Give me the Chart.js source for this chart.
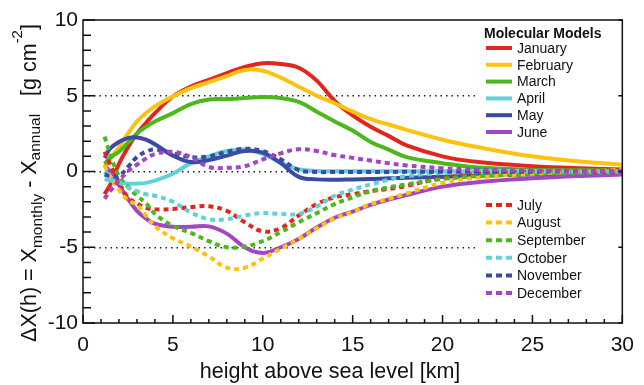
<!DOCTYPE html>
<html>
<head>
<meta charset="utf-8">
<script src="https://cdn.jsdelivr.net/npm/chart.js@4/dist/chart.umd.min.js"></script>
<style>
  html, body { margin: 0; padding: 0; background: #fff; }
  canvas { display: block; }
</style>
</head>
<body>
<canvas id="chart" width="644" height="385"></canvas>
<script>
// heights [km] shared by every monthly profile
const heights = [1.2, 1.5, 2, 2.5, 3, 3.5, 4, 5, 6, 7, 8, 9, 10, 11, 12, 13, 14, 15, 16, 17, 18, 20, 22, 25, 28, 30];

// deviation of monthly from annual mean profile [g cm^-2]
const january   = [-1.5, -0.9, 0.5, 1.6, 2.5, 3.2, 3.85, 4.95, 5.6, 6.05, 6.5, 6.9, 7.15, 7.1, 6.85, 6.0, 4.65, 3.7, 2.95, 2.35, 1.72, 1.0, 0.62, 0.35, 0.2, 0.13];
const february  = [0.3, 0.8, 1.6, 2.5, 3.3, 3.85, 4.3, 4.95, 5.5, 5.9, 6.3, 6.7, 6.65, 6.2, 5.6, 5.0, 4.5, 3.95, 3.45, 3.1, 2.75, 2.1, 1.6, 1.0, 0.62, 0.45];
const march     = [0.5, 0.9, 1.3, 1.9, 2.5, 2.95, 3.3, 3.85, 4.45, 4.75, 4.78, 4.85, 4.92, 4.85, 4.6, 3.95, 3.3, 2.7, 1.95, 1.45, 0.95, 0.55, 0.26, 0.12, 0.08, 0.05];
const april     = [-0.5, -0.6, -0.7, -0.8, -0.8, -0.75, -0.6, -0.15, 0.55, 1.0, 1.35, 1.45, 1.15, 0.6, 0.15, 0.03, 0.02, 0.02, 0.02, 0.02, 0.02, 0.02, 0.01, 0.01, 0, 0];
const may       = [0.9, 1.5, 1.95, 2.2, 2.25, 2.1, 1.8, 1.05, 0.62, 0.75, 1.05, 1.35, 1.25, 0.55, -0.35, -0.52, -0.55, -0.52, -0.5, -0.45, -0.42, -0.35, -0.28, -0.2, -0.12, -0.1];
const june      = [0.4, 0, -0.9, -1.8, -2.6, -3.1, -3.45, -3.65, -3.65, -3.62, -4.1, -5.0, -5.38, -5.0, -4.45, -3.7, -3.05, -2.65, -2.2, -1.85, -1.55, -1.0, -0.7, -0.45, -0.28, -0.2];
const july      = [1.3, 0.5, -0.7, -1.7, -2.1, -2.4, -2.5, -2.47, -2.35, -2.3, -2.6, -3.35, -3.95, -3.73, -2.9, -2.15, -1.7, -1.5, -1.3, -1.15, -0.95, -0.42, -0.15, -0.05, 0, 0];
const august    = [0.4, -0.3, -1.2, -1.9, -2.2, -2.9, -3.6, -4.4, -4.95, -5.6, -6.35, -6.35, -5.75, -5.1, -4.45, -3.75, -3.1, -2.65, -2.15, -1.8, -1.45, -0.75, -0.4, -0.15, 0, 0.1];
const september = [2.3, 1.2, -0.3, -1.0, -1.6, -2.1, -2.8, -3.6, -4.05, -4.6, -5.0, -4.95, -4.6, -4.0, -3.35, -2.75, -2.15, -1.7, -1.3, -1.05, -0.85, -0.5, -0.3, -0.15, -0.08, -0.05];
const october   = [0, -0.3, -0.7, -1.05, -1.3, -1.5, -1.6, -2.0, -2.7, -3.15, -3.15, -2.9, -2.75, -2.8, -2.8, -2.3, -1.6, -1.2, -0.85, -0.55, -0.3, -0.1, -0.03, 0, 0, 0];
const november  = [-0.2, -0.3, -0.3, 0.3, 0.95, 1.3, 1.45, 1.2, 0.95, 1.0, 1.3, 1.5, 1.35, 0.8, 0.1, -0.03, -0.03, -0.03, -0.03, -0.03, -0.02, -0.02, -0.02, -0.01, 0, 0];
const december  = [-1.8, -1.3, -0.6, 0.02, 0.45, 0.85, 1.15, 1.3, 0.95, 0.3, 0.24, 0.35, 0.8, 1.2, 1.47, 1.35, 1.08, 0.9, 0.72, 0.55, 0.4, 0.22, 0.12, 0.06, 0.03, 0.02];

const months = ['January', 'February', 'March', 'April', 'May', 'June',
                'July', 'August', 'September', 'October', 'November', 'December'];
const series = [january, february, march, april, may, june,
                july, august, september, october, november, december];

const xTicks = [0, 5, 10, 15, 20, 25, 30];
const yTicks = [-10, -5, 0, 5, 10];
const dottedLevels = [-5, 0, 5];

const palette = ['#e2261f', '#ffc20e', '#4cb81d', '#62d1d6', '#3b4aa5', '#a346c6'];
const FONT = '"Liberation Sans", Arial, sans-serif';

// Jan-Jun solid, Jul-Dec dashed, same six colours
const datasets = series.map((vals, i) => ({
  label: months[i],
  data: heights.map((h, k) => ({ x: h, y: vals[k] })),
  borderColor: palette[i % 6],
  borderWidth: 4,
  borderDash: i < 6 ? [] : [5, 4],
  borderCapStyle: 'butt',
  pointRadius: 0,
  fill: false,
  tension: 0.4,
  order: 12 - i
}));

// white legend panels with line samples
const legendPanels = {
  id: 'legendPanels',
  beforeDatasetsDraw(chart) {
    const ctx = chart.ctx;
    ctx.save();
    ctx.fillStyle = '#fff';
    ctx.fillRect(478, 24, 151, 116);
    ctx.fillRect(478, 196, 151, 106);

    ctx.fillStyle = '#111';
    ctx.textBaseline = 'middle';
    ctx.font = 'bold 14px ' + FONT;
    ctx.fillText('Molecular Models', 484, 34);

    ctx.font = '14px ' + FONT;
    months.forEach((m, i) => {
      const y = i < 6 ? 48 + i * 16.8 : 205 + (i - 6) * 17.6;
      ctx.beginPath();
      ctx.strokeStyle = palette[i % 6];
      ctx.lineWidth = 4;
      ctx.lineCap = 'butt';
      ctx.setLineDash(i < 6 ? [] : [6, 4]);
      ctx.moveTo(486, y);
      ctx.lineTo(512, y);
      ctx.stroke();
      ctx.setLineDash([]);
      ctx.fillText(m, 517, y + 1);
    });
    ctx.restore();
  }
};

// axis frame with inward ticks
const frame = {
  id: 'frame',
  afterDatasetsDraw(chart) {
    const { ctx, chartArea: a, scales: { x, y } } = chart;
    ctx.save();
    ctx.strokeStyle = '#111';
    ctx.lineWidth = 1.5;
    ctx.strokeRect(a.left, a.top, a.right - a.left, a.bottom - a.top);
    ctx.beginPath();
    for (let v = 0; v <= 30; v++) {
      const px = x.getPixelForValue(v);
      const len = v % 5 === 0 ? 8 : 4;
      ctx.moveTo(px, a.bottom);
      ctx.lineTo(px, a.bottom - len);
    }
    for (let v = -10; v <= 10; v++) {
      const py = y.getPixelForValue(v);
      const len = v % 5 === 0 ? 12 : 8;
      ctx.moveTo(a.left, py);
      ctx.lineTo(a.left + len, py);
      if (v % 5 === 0) {
        ctx.moveTo(a.right, py);
        ctx.lineTo(a.right - 4, py);
      }
    }
    ctx.stroke();
    ctx.restore();
  }
};

// axis titles, the y title with sub- and superscripts
const titles = {
  id: 'titles',
  afterDraw(chart) {
    const ctx = chart.ctx;
    ctx.save();
    ctx.fillStyle = '#111';
    ctx.textBaseline = 'alphabetic';
    ctx.font = '21.5px ' + FONT;
    ctx.textAlign = 'center';
    ctx.fillText('height above sea level [km]', 330, 378);

    const parts = [
      ['\u0394X(h) = X', 21.5, 0],
      ['monthly', 15.5, 6],
      [' - X', 21.5, 0],
      ['annual', 15.5, 4],
      ['   [g cm', 21.5, 0],
      ['-2', 15, -14],
      [']', 21.5, 0]
    ];
    ctx.textAlign = 'left';
    let total = 0;
    parts.forEach(p => { ctx.font = p[1] + 'px ' + FONT; total += ctx.measureText(p[0]).width; });
    ctx.translate(36, 183);
    ctx.rotate(-Math.PI / 2);
    let cx = -total / 2;
    parts.forEach(p => {
      ctx.font = p[1] + 'px ' + FONT;
      ctx.fillText(p[0], cx, p[2]);
      cx += ctx.measureText(p[0]).width;
    });
    ctx.restore();
  }
};

new Chart(document.getElementById('chart'), {
  type: 'line',
  data: { datasets },
  options: {
    responsive: false,
    devicePixelRatio: 1,
    animation: false,
    layout: { padding: { top: 20, right: 13, left: 0, bottom: 0 } },
    plugins: { legend: { display: false }, tooltip: { enabled: false } },
    scales: {
      x: {
        type: 'linear',
        min: 0, max: 30,
        afterFit: s => { s.height = 62; },
        afterBuildTicks: s => { s.ticks = xTicks.map(v => ({ value: v })); },
        ticks: { font: { family: FONT, size: 21 }, color: '#111', padding: 10, maxRotation: 0 },
        grid: { display: false, drawTicks: false },
        border: { display: false }
      },
      y: {
        min: -10, max: 10,
        afterFit: s => { s.width = 83; },
        afterBuildTicks: s => { s.ticks = yTicks.map(v => ({ value: v })); },
        ticks: { font: { family: FONT, size: 21 }, color: '#111', padding: 5 },
        grid: {
          drawTicks: false,
          lineWidth: 1.5,
          color: c => dottedLevels.includes(c.tick && c.tick.value) ? '#222' : 'rgba(0,0,0,0)'
        },
        border: { display: false, dash: [1.5, 4] }
      }
    }
  },
  plugins: [legendPanels, frame, titles]
});
</script>
</body>
</html>
